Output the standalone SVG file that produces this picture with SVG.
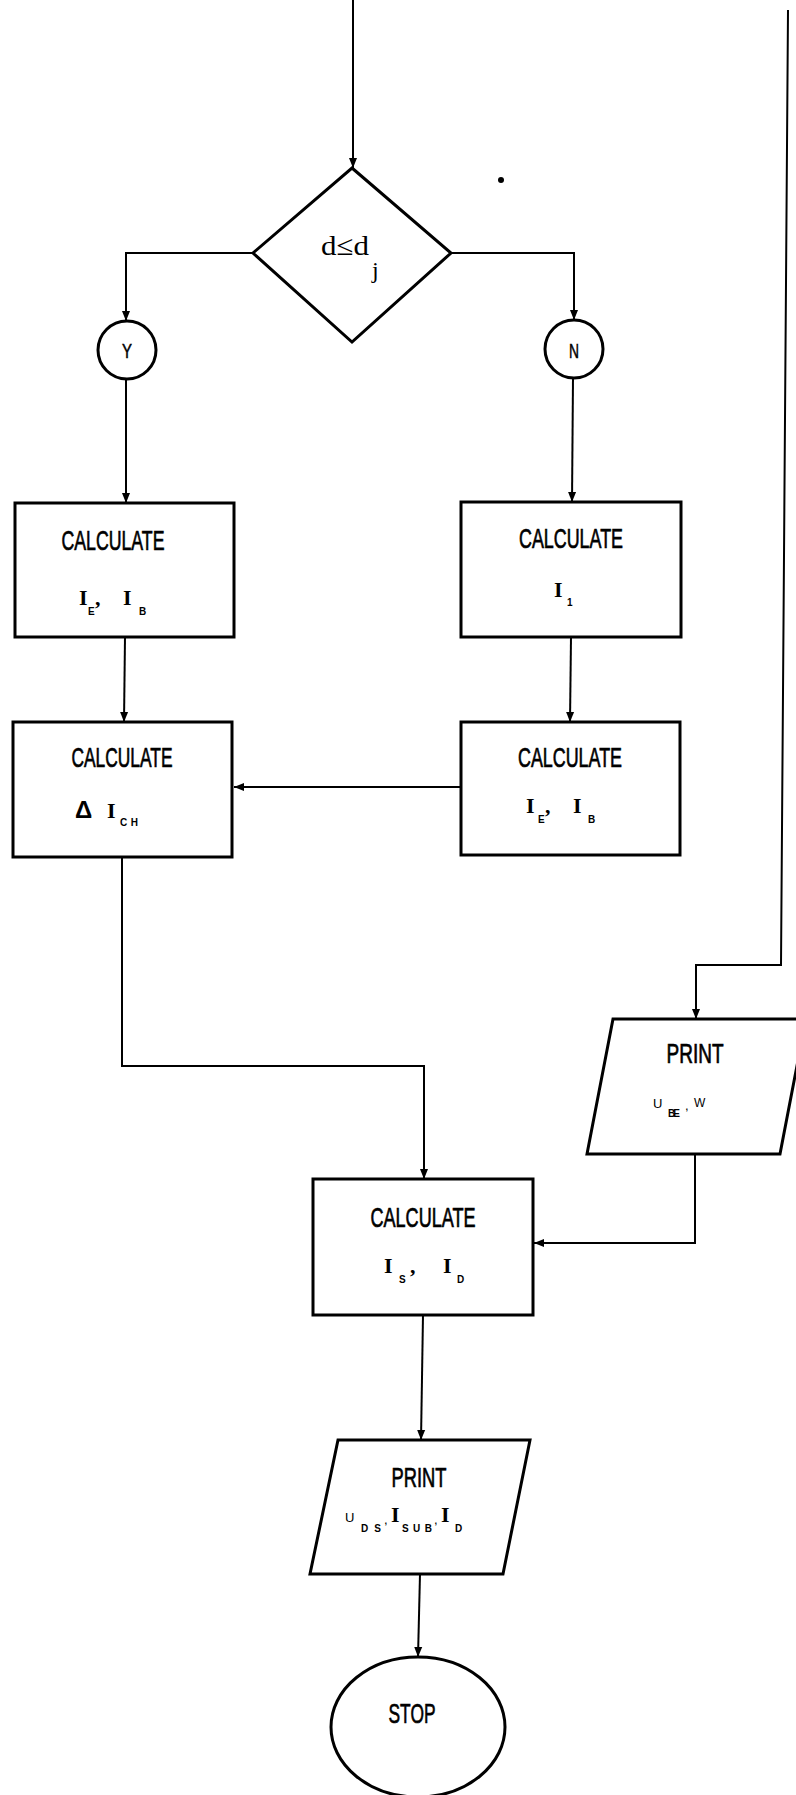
<svg xmlns="http://www.w3.org/2000/svg" width="796" height="1795" viewBox="0 0 796 1795">
<style>
.shape{fill:#fff;stroke:#000;stroke-width:3}
.conn{fill:none;stroke:#000;stroke-width:2}
.t{font-family:"Liberation Sans","DejaVu Sans",sans-serif;font-size:28px;fill:#000;stroke:#000;stroke-width:0.7;text-anchor:middle}
.v{font-family:"Liberation Serif","DejaVu Serif",serif;font-size:22px;fill:#000;font-weight:bold}
.d{font-family:"Liberation Serif","DejaVu Serif",serif;fill:#000}
.u{font-family:"Liberation Sans","DejaVu Sans",sans-serif;font-size:13px;fill:#000}
.s{font-family:"Liberation Sans","DejaVu Sans",sans-serif;font-size:10px;font-weight:bold}
.c{font-family:"Liberation Sans","DejaVu Sans",sans-serif;font-size:20px;fill:#000;stroke:#000;stroke-width:0.5;text-anchor:middle}
</style>
<defs>
<marker id="ah" markerWidth="11" markerHeight="11" refX="10" refY="5" orient="auto" markerUnits="userSpaceOnUse"><path d="M0,1 L10,5 L0,9 Z" fill="#000"/></marker>
</defs>
<rect width="796" height="1795" fill="#fff"/>
<g id="connectors">
<path class="conn" d="M353,0 L353,168" marker-end="url(#ah)"/>
<path class="conn" d="M253,253 L126,253 L126,321" marker-end="url(#ah)"/>
<path class="conn" d="M451,253 L574,253 L574,320" marker-end="url(#ah)"/>
<path class="conn" d="M126,379 L126,503" marker-end="url(#ah)"/>
<path class="conn" d="M573,378 L572,502" marker-end="url(#ah)"/>
<path class="conn" d="M125,637 L124,722" marker-end="url(#ah)"/>
<path class="conn" d="M571,637 L570,722" marker-end="url(#ah)"/>
<path class="conn" d="M461,787 L234,787" marker-end="url(#ah)"/>
<path class="conn" d="M122,857 L122,1066 L424,1066 L424,1179" marker-end="url(#ah)"/>
<path class="conn" d="M788,10 L781,965 L696,965 L696,1019" marker-end="url(#ah)"/>
<path class="conn" d="M695,1154 L695,1243 L534,1243" marker-end="url(#ah)"/>
<path class="conn" d="M423,1315 L421,1440" marker-end="url(#ah)"/>
<path class="conn" d="M420,1574 L418,1657" marker-end="url(#ah)"/>
</g>
<g id="decision">
<polygon class="shape" points="352,168 451,253 352,342 253,253"/>
<text class="d" x="321" y="255" font-size="28" textLength="48" lengthAdjust="spacingAndGlyphs">d≤d</text>
<text class="d" x="372" y="278" font-size="24">j</text>
</g>
<g id="yes">
<circle class="shape" cx="127" cy="350" r="29"/>
<text class="c" x="127" y="358" textLength="10" lengthAdjust="spacingAndGlyphs">Y</text>
</g>
<g id="no">
<circle class="shape" cx="574" cy="349" r="29"/>
<text class="c" x="574" y="358" textLength="10" lengthAdjust="spacingAndGlyphs">N</text>
</g>
<g id="calc-ie-ib-left">
<rect class="shape" x="15" y="503" width="219" height="134"/>
<text class="t" x="113" y="550" textLength="103" lengthAdjust="spacingAndGlyphs">CALCULATE</text>
<text class="v"><tspan x="79" y="605">I</tspan><tspan class="s" x="88" y="615">E</tspan><tspan x="95" y="605">,</tspan><tspan x="123" y="605">I</tspan><tspan class="s" x="139" y="615">B</tspan></text>
</g>
<g id="calc-i1">
<rect class="shape" x="461" y="502" width="220" height="135"/>
<text class="t" x="571" y="548" textLength="104" lengthAdjust="spacingAndGlyphs">CALCULATE</text>
<text class="v"><tspan x="554" y="597">I</tspan><tspan class="s" x="567" y="606">1</tspan></text>
</g>
<g id="calc-delta-ich">
<rect class="shape" x="13" y="722" width="219" height="135"/>
<text class="t" x="122" y="767" textLength="101" lengthAdjust="spacingAndGlyphs">CALCULATE</text>
<text class="v"><tspan font-family="Liberation Sans, sans-serif" x="75" y="818" font-size="24">Δ</tspan><tspan x="107" y="818">I</tspan><tspan class="s" x="120" y="826" textLength="18">CH</tspan></text>
</g>
<g id="calc-ie-ib-right">
<rect class="shape" x="461" y="722" width="219" height="133"/>
<text class="t" x="570" y="767" textLength="104" lengthAdjust="spacingAndGlyphs">CALCULATE</text>
<text class="v"><tspan x="526" y="813">I</tspan><tspan class="s" x="538" y="823">E</tspan><tspan x="545" y="813">,</tspan><tspan x="573" y="813">I</tspan><tspan class="s" x="588" y="823">B</tspan></text>
</g>
<g id="print-ube-w">
<polygon class="shape" points="613,1019 806,1019 780,1154 587,1154"/>
<text class="t" x="695" y="1063" font-size="25" textLength="57" lengthAdjust="spacingAndGlyphs">PRINT</text>
<text class="u"><tspan x="653" y="1108">U</tspan><tspan class="s" x="668" y="1117" textLength="12">BE</tspan><tspan x="685" y="1110">,</tspan><tspan x="694" y="1107" font-size="12">W</tspan></text>
</g>
<g id="calc-is-id">
<rect class="shape" x="313" y="1179" width="220" height="136"/>
<text class="t" x="423" y="1227" textLength="105" lengthAdjust="spacingAndGlyphs">CALCULATE</text>
<text class="v"><tspan x="384" y="1273">I</tspan><tspan class="s" x="399" y="1283">S</tspan><tspan x="410" y="1273">,</tspan><tspan x="443" y="1273">I</tspan><tspan class="s" x="457" y="1283">D</tspan></text>
</g>
<g id="print-uds">
<polygon class="shape" points="338,1440 530,1440 503,1574 310,1574"/>
<text class="t" x="419" y="1487" font-size="25" textLength="55" lengthAdjust="spacingAndGlyphs">PRINT</text>
<text class="u"><tspan x="345" y="1522">U</tspan><tspan class="s" x="361" y="1532" textLength="20">DS</tspan><tspan x="384" y="1524">,</tspan><tspan class="v" x="391" y="1522" font-size="17">I</tspan><tspan class="s" x="402" y="1532" textLength="30">SUB</tspan><tspan x="434" y="1524">,</tspan><tspan class="v" x="441" y="1522" font-size="17">I</tspan><tspan class="s" x="455" y="1532">D</tspan></text>
</g>
<g id="stop">
<ellipse class="shape" cx="418" cy="1727" rx="87" ry="70"/>
<text class="t" x="412" y="1723" font-size="21" textLength="47" lengthAdjust="spacingAndGlyphs">STOP</text>
</g>
<circle cx="501" cy="180" r="3" fill="#000"/>
</svg>
